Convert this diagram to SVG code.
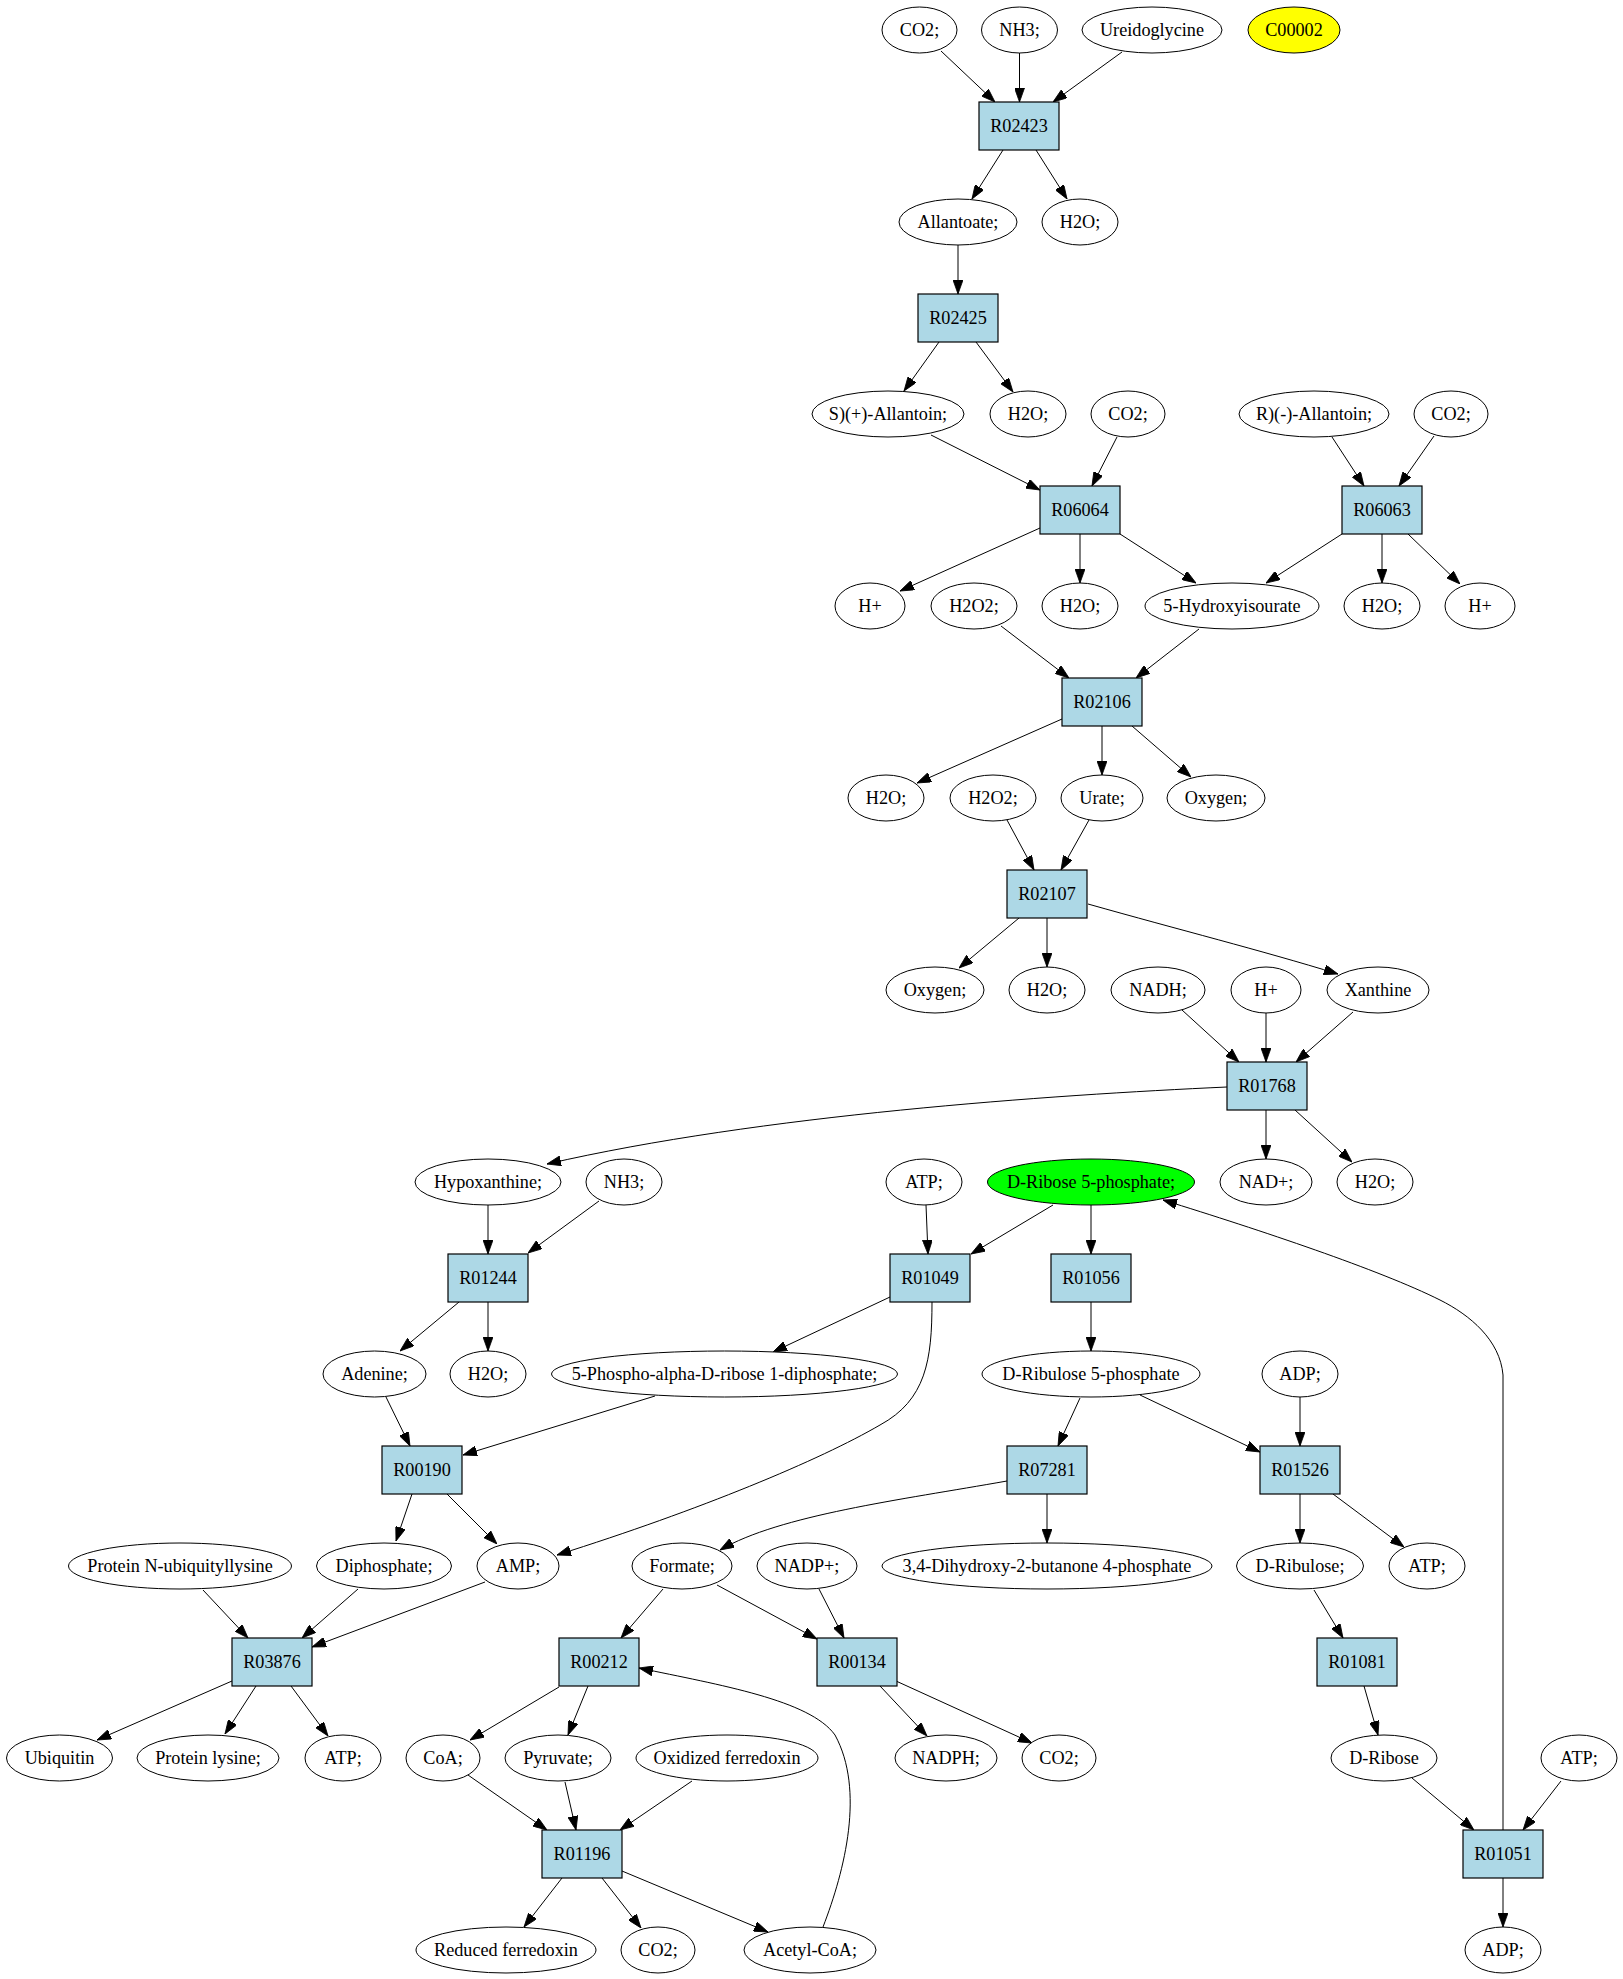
<svg xmlns="http://www.w3.org/2000/svg" width="1623" height="1979" viewBox="0 0 1623 1979">
<style>
.c ellipse{fill:#ffffff;stroke:#000000;stroke-width:1}
.r rect{fill:#add8e6;stroke:#000000;stroke-width:1.2}
text{font-family:"Liberation Serif","Times New Roman",serif;font-size:18.2px;text-anchor:middle;fill:#000000}
#edges path{fill:none;stroke:#000000;stroke-width:1;marker-end:url(#arr)}
</style>
<defs>
<marker id="arr" markerUnits="userSpaceOnUse" markerWidth="14" markerHeight="10" refX="14" refY="5" orient="auto">
<path d="M0,0 L14,5 L0,10 z" fill="#000000" stroke="#000000" stroke-width="0.8"/>
</marker>
</defs>
<rect width="1623" height="1979" fill="#ffffff"/>
<g id="edges">
<path d="M941,51 L995,102"/>
<path d="M1019.5,53 L1019.5,102"/>
<path d="M1122,52 L1053,102"/>
<path d="M1003,150 L972,199"/>
<path d="M1036,150 L1067,199"/>
<path d="M958,245 L958,294"/>
<path d="M939,342 L904,391"/>
<path d="M976,342 L1013,392"/>
<path d="M931,435 L1040,490"/>
<path d="M1117,437 L1092,486"/>
<path d="M1332,437 L1364,486"/>
<path d="M1434,436 L1399,486"/>
<path d="M1040,528 L900,591"/>
<path d="M1080,534 L1080,583"/>
<path d="M1120,534 L1196,583"/>
<path d="M1342,534 L1266,583"/>
<path d="M1382,534 L1382,583"/>
<path d="M1408,534 L1460,584"/>
<path d="M1001,626 L1069,678"/>
<path d="M1199,629 L1136,678"/>
<path d="M1062,719 L917,783"/>
<path d="M1102,726 L1102,775"/>
<path d="M1132,726 L1191,777"/>
<path d="M1007,820 L1034,870"/>
<path d="M1089,820 L1061,870"/>
<path d="M1019,918 L959,968"/>
<path d="M1047,918 L1047,967"/>
<path d="M1088,904 C1180,930 1260,950 1338,974"/>
<path d="M1182,1010 L1239,1062"/>
<path d="M1266,1013 L1266,1062"/>
<path d="M1353,1012 L1296,1062"/>
<path d="M1266,1110 L1266,1159"/>
<path d="M1295,1110 L1352,1162"/>
<path d="M1227,1087 C1050,1095 760,1115 547,1164"/>
<path d="M488,1205 L488,1254"/>
<path d="M599,1201 L528,1253"/>
<path d="M459,1302 L400,1351"/>
<path d="M488,1302 L488,1351"/>
<path d="M926,1205 L928,1254"/>
<path d="M1053,1205 L971,1254"/>
<path d="M1091,1205 L1091,1254"/>
<path d="M890,1297 L773,1352"/>
<path d="M932,1302 C932,1360 926,1400 880,1425 C820,1460 700,1510 557,1555"/>
<path d="M1091,1302 L1091,1351"/>
<path d="M386,1397 L410,1446"/>
<path d="M655,1396 L463,1455"/>
<path d="M1080,1398 L1058,1446"/>
<path d="M1140,1395 L1260,1452"/>
<path d="M1300,1397 L1300,1446"/>
<path d="M412,1494 L396,1541"/>
<path d="M447,1494 L497,1544"/>
<path d="M1007,1481 C900,1500 780,1515 720,1550"/>
<path d="M1047,1494 L1047,1543"/>
<path d="M1300,1494 L1300,1543"/>
<path d="M1333,1494 L1404,1547"/>
<path d="M203,1590 L248,1638"/>
<path d="M358,1589 L302,1638"/>
<path d="M485,1582 L312,1647"/>
<path d="M663,1589 L621,1638"/>
<path d="M717,1585 L817,1639"/>
<path d="M819,1589 L844,1638"/>
<path d="M1314,1590 L1343,1638"/>
<path d="M232,1681 L97,1740"/>
<path d="M256,1686 L225,1734"/>
<path d="M291,1686 L328,1736"/>
<path d="M559,1687 L470,1740"/>
<path d="M588,1686 L568,1735"/>
<path d="M880,1686 L927,1736"/>
<path d="M896,1681 L1032,1743"/>
<path d="M1364,1686 L1378,1735"/>
<path d="M468,1775 L547,1830"/>
<path d="M565,1782 L576,1830"/>
<path d="M692,1781 L620,1830"/>
<path d="M1412,1778 L1474,1830"/>
<path d="M1561,1781 L1523,1830"/>
<path d="M562,1878 L524,1927"/>
<path d="M602,1878 L641,1928"/>
<path d="M622,1871 L768,1932"/>
<path d="M823,1927 C845,1870 865,1790 835,1735 C810,1700 720,1685 639,1668"/>
<path d="M1503,1878 L1503,1927"/>
<path d="M1503,1830 L1503,1375 C1500,1340 1470,1315 1440,1300 C1380,1270 1260,1230 1163,1200"/>
</g>
<g id="n_co2_a" class="c"><ellipse cx="919.5" cy="30" rx="37.5" ry="23"/><text x="919.5" y="36">CO2;</text></g>
<g id="n_nh3_a" class="c"><ellipse cx="1019.5" cy="30" rx="38" ry="23"/><text x="1019.5" y="36">NH3;</text></g>
<g id="n_ureidoglycine" class="c"><ellipse cx="1152" cy="30" rx="70" ry="23"/><text x="1152" y="36">Ureidoglycine</text></g>
<g id="n_c00002" class="c"><ellipse cx="1294" cy="30" rx="46" ry="23" style="fill:#ffff00"/><text x="1294" y="36">C00002</text></g>
<g id="r_R02423" class="r"><rect x="979" y="102" width="80" height="48"/><text x="1019" y="132">R02423</text></g>
<g id="n_allantoate" class="c"><ellipse cx="958" cy="222" rx="59" ry="23"/><text x="958" y="228">Allantoate;</text></g>
<g id="n_h2o_a" class="c"><ellipse cx="1080" cy="222" rx="38" ry="23"/><text x="1080" y="228">H2O;</text></g>
<g id="r_R02425" class="r"><rect x="918" y="294" width="80" height="48"/><text x="958" y="324">R02425</text></g>
<g id="n_sallantoin" class="c"><ellipse cx="888" cy="414" rx="76" ry="23"/><text x="888" y="420">S)(+)-Allantoin;</text></g>
<g id="n_h2o_b" class="c"><ellipse cx="1028" cy="414" rx="38" ry="23"/><text x="1028" y="420">H2O;</text></g>
<g id="n_co2_b" class="c"><ellipse cx="1128" cy="414" rx="37" ry="23"/><text x="1128" y="420">CO2;</text></g>
<g id="n_rallantoin" class="c"><ellipse cx="1314" cy="414" rx="75" ry="23"/><text x="1314" y="420">R)(-)-Allantoin;</text></g>
<g id="n_co2_c" class="c"><ellipse cx="1451" cy="414" rx="37" ry="23"/><text x="1451" y="420">CO2;</text></g>
<g id="r_R06064" class="r"><rect x="1040" y="486" width="80" height="48"/><text x="1080" y="516">R06064</text></g>
<g id="r_R06063" class="r"><rect x="1342" y="486" width="80" height="48"/><text x="1382" y="516">R06063</text></g>
<g id="n_hplus_a" class="c"><ellipse cx="870" cy="606" rx="35" ry="23"/><text x="870" y="612">H+</text></g>
<g id="n_h2o2_a" class="c"><ellipse cx="974" cy="606" rx="43" ry="23"/><text x="974" y="612">H2O2;</text></g>
<g id="n_h2o_c" class="c"><ellipse cx="1080" cy="606" rx="38" ry="23"/><text x="1080" y="612">H2O;</text></g>
<g id="n_hydroxyisourate" class="c"><ellipse cx="1232" cy="606" rx="87" ry="23"/><text x="1232" y="612">5-Hydroxyisourate</text></g>
<g id="n_h2o_d" class="c"><ellipse cx="1382" cy="606" rx="38" ry="23"/><text x="1382" y="612">H2O;</text></g>
<g id="n_hplus_b" class="c"><ellipse cx="1480" cy="606" rx="35" ry="23"/><text x="1480" y="612">H+</text></g>
<g id="r_R02106" class="r"><rect x="1062" y="678" width="80" height="48"/><text x="1102" y="708">R02106</text></g>
<g id="n_h2o_e" class="c"><ellipse cx="886" cy="798" rx="38" ry="23"/><text x="886" y="804">H2O;</text></g>
<g id="n_h2o2_b" class="c"><ellipse cx="993" cy="798" rx="43" ry="23"/><text x="993" y="804">H2O2;</text></g>
<g id="n_urate" class="c"><ellipse cx="1102" cy="798" rx="41" ry="23"/><text x="1102" y="804">Urate;</text></g>
<g id="n_oxygen_a" class="c"><ellipse cx="1216" cy="798" rx="49" ry="23"/><text x="1216" y="804">Oxygen;</text></g>
<g id="r_R02107" class="r"><rect x="1007" y="870" width="80" height="48"/><text x="1047" y="900">R02107</text></g>
<g id="n_oxygen_b" class="c"><ellipse cx="935" cy="990" rx="49" ry="23"/><text x="935" y="996">Oxygen;</text></g>
<g id="n_h2o_f" class="c"><ellipse cx="1047" cy="990" rx="38" ry="23"/><text x="1047" y="996">H2O;</text></g>
<g id="n_nadh" class="c"><ellipse cx="1158" cy="990" rx="47" ry="23"/><text x="1158" y="996">NADH;</text></g>
<g id="n_hplus_c" class="c"><ellipse cx="1266" cy="990" rx="35" ry="23"/><text x="1266" y="996">H+</text></g>
<g id="n_xanthine" class="c"><ellipse cx="1378" cy="990" rx="51" ry="23"/><text x="1378" y="996">Xanthine</text></g>
<g id="r_R01768" class="r"><rect x="1227" y="1062" width="80" height="48"/><text x="1267" y="1092">R01768</text></g>
<g id="n_hypoxanthine" class="c"><ellipse cx="488" cy="1182" rx="73" ry="23"/><text x="488" y="1188">Hypoxanthine;</text></g>
<g id="n_nh3_b" class="c"><ellipse cx="624" cy="1182" rx="38" ry="23"/><text x="624" y="1188">NH3;</text></g>
<g id="n_atp_a" class="c"><ellipse cx="924" cy="1182" rx="38" ry="23"/><text x="924" y="1188">ATP;</text></g>
<g id="n_ribose5p" class="c"><ellipse cx="1091" cy="1182" rx="103.5" ry="23" style="fill:#00ff00"/><text x="1091" y="1188">D-Ribose 5-phosphate;</text></g>
<g id="n_nadplus" class="c"><ellipse cx="1266" cy="1182" rx="46" ry="23"/><text x="1266" y="1188">NAD+;</text></g>
<g id="n_h2o_g" class="c"><ellipse cx="1375" cy="1182" rx="38" ry="23"/><text x="1375" y="1188">H2O;</text></g>
<g id="r_R01244" class="r"><rect x="448" y="1254" width="80" height="48"/><text x="488" y="1284">R01244</text></g>
<g id="r_R01049" class="r"><rect x="890" y="1254" width="80" height="48"/><text x="930" y="1284">R01049</text></g>
<g id="r_R01056" class="r"><rect x="1051" y="1254" width="80" height="48"/><text x="1091" y="1284">R01056</text></g>
<g id="n_adenine" class="c"><ellipse cx="374.5" cy="1374" rx="51.5" ry="23"/><text x="374.5" y="1380">Adenine;</text></g>
<g id="n_h2o_h" class="c"><ellipse cx="488" cy="1374" rx="38" ry="23"/><text x="488" y="1380">H2O;</text></g>
<g id="n_prpp" class="c"><ellipse cx="724.5" cy="1374" rx="173" ry="23"/><text x="724.5" y="1380">5-Phospho-alpha-D-ribose 1-diphosphate;</text></g>
<g id="n_ribulose5p" class="c"><ellipse cx="1091" cy="1374" rx="109" ry="23"/><text x="1091" y="1380">D-Ribulose 5-phosphate</text></g>
<g id="n_adp_a" class="c"><ellipse cx="1300" cy="1374" rx="38" ry="23"/><text x="1300" y="1380">ADP;</text></g>
<g id="r_R00190" class="r"><rect x="382" y="1446" width="80" height="48"/><text x="422" y="1476">R00190</text></g>
<g id="r_R07281" class="r"><rect x="1007" y="1446" width="80" height="48"/><text x="1047" y="1476">R07281</text></g>
<g id="r_R01526" class="r"><rect x="1260" y="1446" width="80" height="48"/><text x="1300" y="1476">R01526</text></g>
<g id="n_protein_nub" class="c"><ellipse cx="180" cy="1566" rx="111.5" ry="23"/><text x="180" y="1572">Protein N-ubiquityllysine</text></g>
<g id="n_diphosphate" class="c"><ellipse cx="384" cy="1566" rx="67.5" ry="23"/><text x="384" y="1572">Diphosphate;</text></g>
<g id="n_amp" class="c"><ellipse cx="518" cy="1566" rx="41" ry="23"/><text x="518" y="1572">AMP;</text></g>
<g id="n_formate" class="c"><ellipse cx="682" cy="1566" rx="50" ry="23"/><text x="682" y="1572">Formate;</text></g>
<g id="n_nadpplus" class="c"><ellipse cx="807" cy="1566" rx="50" ry="23"/><text x="807" y="1572">NADP+;</text></g>
<g id="n_dhbp" class="c"><ellipse cx="1047" cy="1566" rx="165" ry="23"/><text x="1047" y="1572">3,4-Dihydroxy-2-butanone 4-phosphate</text></g>
<g id="n_ribulose" class="c"><ellipse cx="1300" cy="1566" rx="63.5" ry="23"/><text x="1300" y="1572">D-Ribulose;</text></g>
<g id="n_atp_b" class="c"><ellipse cx="1427" cy="1566" rx="38" ry="23"/><text x="1427" y="1572">ATP;</text></g>
<g id="r_R03876" class="r"><rect x="232" y="1638" width="80" height="48"/><text x="272" y="1668">R03876</text></g>
<g id="r_R00212" class="r"><rect x="559" y="1638" width="80" height="48"/><text x="599" y="1668">R00212</text></g>
<g id="r_R00134" class="r"><rect x="817" y="1638" width="80" height="48"/><text x="857" y="1668">R00134</text></g>
<g id="r_R01081" class="r"><rect x="1317" y="1638" width="80" height="48"/><text x="1357" y="1668">R01081</text></g>
<g id="n_ubiquitin" class="c"><ellipse cx="59.5" cy="1758" rx="53" ry="23"/><text x="59.5" y="1764">Ubiquitin</text></g>
<g id="n_protein_lys" class="c"><ellipse cx="208" cy="1758" rx="71" ry="23"/><text x="208" y="1764">Protein lysine;</text></g>
<g id="n_atp_c" class="c"><ellipse cx="343" cy="1758" rx="38" ry="23"/><text x="343" y="1764">ATP;</text></g>
<g id="n_coa" class="c"><ellipse cx="443" cy="1758" rx="37" ry="23"/><text x="443" y="1764">CoA;</text></g>
<g id="n_pyruvate" class="c"><ellipse cx="558" cy="1758" rx="53" ry="23"/><text x="558" y="1764">Pyruvate;</text></g>
<g id="n_oxferredoxin" class="c"><ellipse cx="727" cy="1758" rx="91" ry="23"/><text x="727" y="1764">Oxidized ferredoxin</text></g>
<g id="n_nadph" class="c"><ellipse cx="946" cy="1758" rx="51" ry="23"/><text x="946" y="1764">NADPH;</text></g>
<g id="n_co2_d" class="c"><ellipse cx="1059" cy="1758" rx="37" ry="23"/><text x="1059" y="1764">CO2;</text></g>
<g id="n_ribose" class="c"><ellipse cx="1384" cy="1758" rx="53" ry="23"/><text x="1384" y="1764">D-Ribose</text></g>
<g id="n_atp_d" class="c"><ellipse cx="1579" cy="1758" rx="38" ry="23"/><text x="1579" y="1764">ATP;</text></g>
<g id="r_R01196" class="r"><rect x="542" y="1830" width="80" height="48"/><text x="582" y="1860">R01196</text></g>
<g id="r_R01051" class="r"><rect x="1463" y="1830" width="80" height="48"/><text x="1503" y="1860">R01051</text></g>
<g id="n_redferredoxin" class="c"><ellipse cx="506" cy="1950" rx="90" ry="23"/><text x="506" y="1956">Reduced ferredoxin</text></g>
<g id="n_co2_e" class="c"><ellipse cx="658" cy="1950" rx="37" ry="23"/><text x="658" y="1956">CO2;</text></g>
<g id="n_acetylcoa" class="c"><ellipse cx="810" cy="1950" rx="66" ry="23"/><text x="810" y="1956">Acetyl-CoA;</text></g>
<g id="n_adp_b" class="c"><ellipse cx="1503" cy="1950" rx="38" ry="23"/><text x="1503" y="1956">ADP;</text></g>
</svg>
